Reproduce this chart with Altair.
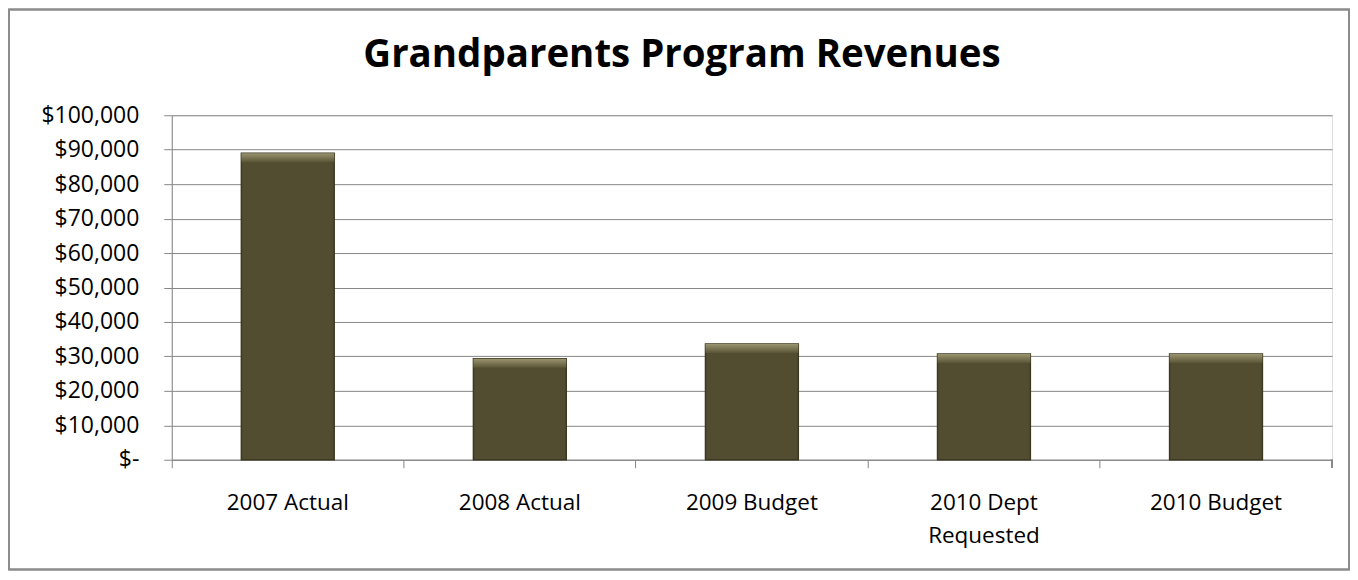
import altair as alt
import pandas as pd

title_text = ["Grandparents Program Revenues"]
categories = ["2007 Actual", "2008 Actual", "2009 Budget", "2010 Dept\nRequested", "2010 Budget"]
revenues = [89000, 29300, 33600, 30700, 30700]
y_ticks = [0, 10000, 20000, 30000, 40000, 50000, 60000, 70000, 80000, 90000, 100000]

df = pd.DataFrame({"category": categories, "revenue": revenues})
title_df = pd.DataFrame({"t": title_text})

W, H = 1162, 345
GRID = "#878787"
FONT = "Open Sans"

x_enc = alt.X(
    "category:N", sort=categories, title=None,
    scale=alt.Scale(paddingInner=0, paddingOuter=0),
    axis=alt.Axis(bandPosition=0, labelAngle=0,
                  labelExpr="split(datum.label, '\\n')",
                  labelFont=FONT, labelFontSize=22.5, labelColor="#000000",
                  labelPadding=24, labelLineHeight=33, tickSize=8,
                  tickColor=GRID, domainColor=GRID, grid=False),
)
y_enc = alt.Y(
    "revenue:Q", title=None,
    scale=alt.Scale(domain=[0, 100000], nice=False),
    axis=alt.Axis(values=y_ticks, labelOverlap=False,
                  labelExpr="datum.value == 0 ? '$-\u00a0\u00a0' : format(datum.value, '$,.0f')",
                  labelFont=FONT, labelFontSize=23, labelColor="#000000",
                  labelPadding=25, tickSize=8, tickColor=GRID, domainColor=GRID,
                  grid=True, gridColor=GRID, gridWidth=1),
)

bars = alt.Chart(df).mark_bar(
    width=alt.RelativeBandSize(0.4), color="#524c30", stroke="#3c3921", strokeWidth=1.5
).encode(x=x_enc, y=y_enc)

bevel = alt.Chart(df).mark_bar(
    width=alt.RelativeBandSize(0.4), y2Offset=9,
    color=alt.Gradient(gradient="linear", x1=0, x2=0, y1=0, y2=1,
                       stops=[alt.GradientStop(color="#9a9470", offset=0),
                              alt.GradientStop(color="#5a5536", offset=1)]),
).encode(x=x_enc, y=y_enc, y2="revenue:Q")

end_tick = alt.Chart(df).mark_rule(color=GRID, strokeWidth=1).encode(
    x=alt.value(W), y=alt.value(H), y2=alt.value(H + 8)
)

frame = alt.Chart(df).mark_rect(fill=None, stroke="#8c8c8c", strokeWidth=1.5).encode(
    x=alt.value(-163), x2=alt.value(1179), y=alt.value(-106), y2=alt.value(455)
)

title = alt.Chart(title_df).mark_text(
    font=FONT, fontSize=38.5, fontWeight="bold", color="#000000",
    align="center", baseline="alphabetic"
).encode(text="t:N", x=alt.value(511), y=alt.value(-48))

chart = alt.layer(bars, bevel, end_tick, frame, title).properties(
    width=W, height=H,
    padding={"left": 164, "top": 107, "right": 18, "bottom": 112},
    autosize=alt.AutoSizeParams(type="none"),
).configure_view(strokeWidth=0).configure(background="#ffffff")

chart.save("out.html", embed_options={"renderer": "svg", "actions": False})
